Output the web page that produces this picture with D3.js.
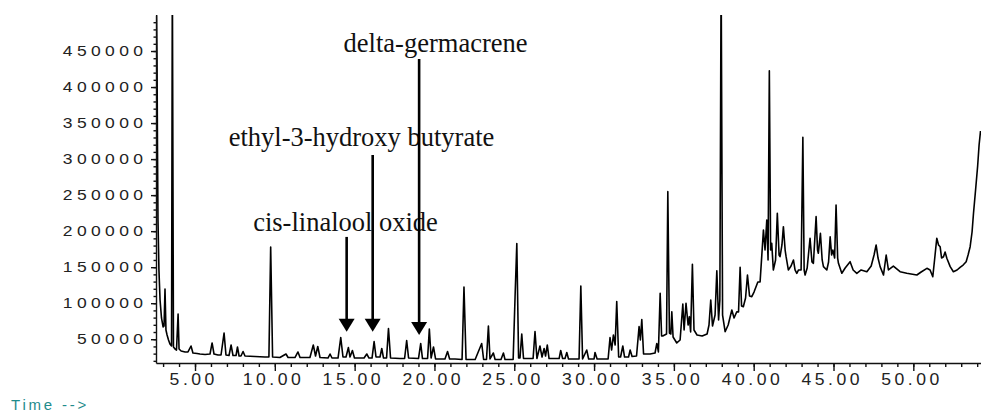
<!DOCTYPE html>
<html>
<head>
<meta charset="utf-8">
<script src="https://cdn.jsdelivr.net/npm/d3@7"></script>
<style>
  body { margin: 0; background: #fff; }
  svg { display: block; }
</style>
</head>
<body>
<div id="chart"></div>
<script>
// retention time (min), abundance
const traceEarly = [
  [2.58, 520000], [2.62, 437600], [2.65, 312600], [2.68, 215500], [2.74, 146100],
  [2.81, 104400], [2.90, 79500], [3.00, 67000], [3.06, 68400], [3.12, 119700],
  [3.18, 62800], [3.25, 55900], [3.34, 48900], [3.43, 43400], [3.53, 40600],
  [3.58, 560000], [3.65, 39200], [3.75, 36400], [3.84, 35000], [3.94, 85000],
  [4.00, 36400], [4.13, 33700], [4.38, 32300], [4.56, 32300], [4.75, 40600],
  [4.87, 30900], [5.13, 30200], [5.31, 29500], [5.63, 28800], [5.94, 29500],
  [6.07, 44800], [6.19, 29500], [6.44, 28100], [6.63, 28100], [6.82, 58600],
  [6.94, 28100], [7.13, 27400], [7.26, 42000], [7.38, 27400], [7.57, 27400],
  [7.66, 39200], [7.76, 26700], [7.88, 26700], [8.01, 33000], [8.13, 26700],
  [8.76, 26000], [9.38, 25300], [9.63, 25300], [9.74, 178000], [9.86, 25300],
  [10.32, 24600], [10.70, 29500], [10.83, 24600], [11.26, 24600], [11.45, 32300],
  [11.58, 24600], [12.20, 24600], [12.41, 42000], [12.55, 26700], [12.69, 39900],
  [12.83, 24600], [13.33, 23900], [13.46, 29500], [13.58, 23900], [13.96, 23900],
  [14.13, 52400], [14.27, 25300], [14.46, 25300], [14.61, 38500], [14.71, 25300],
  [14.86, 34400], [14.99, 23900], [15.59, 23900], [15.76, 29500], [15.90, 23900],
  [16.09, 23900], [16.22, 46800], [16.34, 25300], [16.59, 25300], [16.70, 37100],
  [16.81, 23900], [17.00, 23900], [17.12, 64900], [17.25, 23900], [17.84, 23200],
  [18.13, 23200], [18.26, 48200], [18.38, 23900], [19.00, 23200], [19.14, 44100],
  [19.25, 23200], [19.57, 23200], [19.68, 64200], [19.79, 23900], [19.94, 39200],
  [20.07, 22600], [20.66, 22600], [20.82, 33000], [20.95, 22600]
];
const traceMid = [
  [21.29, 22600], [21.73, 21900], [21.85, 122500], [21.98, 21900], [22.55, 21900],
  [22.96, 44100], [23.08, 21900], [23.26, 21900], [23.38, 68400], [23.48, 22600],
  [23.69, 30900], [23.80, 21900], [24.17, 21900], [24.32, 30900], [24.42, 21900],
  [24.93, 21900], [25.05, 108600], [25.16, 182900], [25.27, 23900], [25.36, 23900],
  [25.47, 57300], [25.58, 23200], [26.18, 23200], [26.30, 60700], [26.42, 23200],
  [26.61, 40600], [26.74, 25300], [26.87, 37100], [26.96, 26700], [27.07, 42000],
  [27.18, 23200], [27.81, 23200], [27.91, 34400], [28.03, 23200], [28.18, 23200],
  [28.29, 31600], [28.40, 22600], [29.06, 22600], [29.17, 123900], [29.28, 22600],
  [29.54, 35000], [29.66, 22600], [30.00, 22600], [30.06, 31600], [30.19, 22600],
  [30.88, 22600], [31.00, 52400], [31.10, 35000], [31.21, 55900], [31.32, 42000],
  [31.42, 102400], [31.54, 25300], [31.66, 25300], [31.80, 40600], [31.91, 25300],
  [32.16, 25300], [32.26, 35000], [32.38, 26000], [32.66, 26700], [32.82, 67700],
  [32.90, 48900], [32.99, 77400], [33.10, 29500], [33.51, 29500], [33.82, 30900],
  [33.93, 44100], [34.03, 32300], [34.14, 113700], [34.23, 54500], [34.30, 54500]
];
const traceLate = [
  [34.42, 55900], [34.54, 57300], [34.62, 254800], [34.72, 58600], [34.81, 57300],
  [34.87, 88200], [34.95, 53100], [35.18, 44800], [35.39, 48900], [35.56, 98900],
  [35.64, 62800], [35.76, 99900], [35.89, 69700], [35.97, 81300], [36.05, 60000],
  [36.16, 154000], [36.26, 62800], [36.45, 55900], [36.77, 54500], [37.08, 57300],
  [37.20, 69700], [37.31, 104400], [37.42, 68400], [37.58, 83600], [37.69, 145100],
  [37.80, 76700], [37.88, 104400], [37.96, 560000], [38.05, 83600], [38.21, 60400],
  [38.40, 69700], [38.63, 90600], [38.77, 79500], [38.94, 88200], [39.05, 87800],
  [39.15, 149800], [39.24, 96100], [39.35, 95100], [39.49, 107200], [39.61, 139100],
  [39.74, 110000], [39.88, 109000], [40.02, 115500], [40.26, 129400], [40.40, 129400],
  [40.61, 201600], [40.71, 173800], [40.82, 215500], [40.90, 160000], [40.98, 422700],
  [41.06, 173800], [41.13, 183100], [41.23, 146100], [41.37, 160000], [41.48, 224800],
  [41.59, 166900], [41.65, 164500], [41.77, 180800], [41.86, 206200], [41.97, 173800],
  [42.03, 164500], [42.17, 146100], [42.34, 151600], [42.49, 160000], [42.59, 146100],
  [42.70, 141500], [42.81, 146100], [42.97, 146100], [43.08, 330300], [43.16, 146100],
  [43.22, 139100], [43.35, 148900], [43.53, 190100], [43.65, 157200], [43.74, 155400],
  [43.91, 220100], [44.00, 173800], [44.05, 169300], [44.18, 197000], [44.29, 160000],
  [44.37, 150700], [44.58, 146100], [44.69, 157200], [44.79, 192300], [44.88, 166900],
  [44.96, 173800], [45.07, 162700], [45.16, 236300], [45.26, 162700], [45.31, 155400],
  [45.52, 141500], [45.73, 148900], [46.04, 157600], [46.23, 146100], [46.46, 141500],
  [46.73, 146100], [47.09, 143700], [47.36, 151600], [47.54, 166900], [47.67, 180800],
  [47.79, 162700], [47.92, 150700], [48.13, 139100], [48.30, 166900], [48.44, 146100],
  [48.75, 151600], [49.17, 143700], [49.59, 141500], [49.86, 140500], [50.22, 139100],
  [50.49, 143300], [50.85, 148400], [51.05, 146100], [51.22, 136800], [51.33, 160000],
  [51.47, 190100], [51.58, 180800], [51.68, 178400], [51.77, 162700], [51.89, 164500],
  [51.99, 171100], [52.10, 162300], [52.31, 150700], [52.51, 143700], [52.74, 146100],
  [52.93, 149800], [53.12, 153000], [53.31, 157600], [53.43, 166900], [53.56, 178400],
  [53.68, 198800], [53.77, 224800], [53.90, 257100], [54.03, 290400], [54.12, 319600],
  [54.21, 339000]
];

const timeDomain = [2.556, 54.24];
const abundanceDomain = [17000, 500000];
const yMajorTicks = [50000, 100000, 150000, 200000, 250000, 300000, 350000, 400000, 450000];
const yMinorTicks = d3.range(20000, 500000, 10000);
const xMajorTicks = [5, 10, 15, 20, 25, 30, 35, 40, 45, 50];
const xMinorTicks = d3.range(3, 55, 1);

// annotations: compound, arrow time, arrow top / tip abundance, label centre
const annLabels = ["cis-linalool oxide", "ethyl-3-hydroxy butyrate", "delta-germacrene"];
const annTimes = [14.50, 16.13, 19.04];
const annTops = [192000, 305700, 439000];
const annTips = [60400, 60400, 55900];
const annTextTimes = [14.43, 15.43, 20.07];
const annTextValues = [200600, 318600, 448300];

const W = 981, H = 412;
const plot = { left: 156, right: 981, top: 15, bottom: 363 };

const svg = d3.select("#chart").append("svg")
  .attr("width", W)
  .attr("height", H);

const x = d3.scaleLinear().domain(timeDomain).range([plot.left, plot.right]);
const y = d3.scaleLinear().domain(abundanceDomain).range([plot.bottom, plot.top]);

svg.append("clipPath").attr("id", "clip")
  .append("rect")
    .attr("x", plot.left)
    .attr("y", plot.top)
    .attr("width", plot.right - plot.left)
    .attr("height", plot.bottom - plot.top);

const trace = traceEarly.concat(traceMid, traceLate);

const line = d3.line()
  .x(d => x(d[0]))
  .y(d => y(d[1]));

svg.append("path")
  .datum(trace)
  .attr("clip-path", "url(#clip)")
  .attr("fill", "none")
  .attr("stroke", "#000")
  .attr("stroke-width", 1.6)
  .attr("stroke-linejoin", "round")
  .attr("d", line);

// y axis
const yScaleX = 1.25;
svg.append("g")
  .attr("transform", `translate(${plot.left},0)`)
  .call(d3.axisLeft(y).tickValues(yMinorTicks).tickSize(2.5).tickFormat(""))
  .call(g => g.select(".domain").remove());

const yAxis = svg.append("g")
  .attr("transform", `translate(${plot.left},0)`)
  .call(d3.axisLeft(y).tickValues(yMajorTicks).tickSize(5).tickSizeOuter(0).tickFormat(d3.format("d")));
yAxis.selectAll("text")
  .attr("x", -8.6 / yScaleX)
  .attr("transform", `scale(${yScaleX},1)`)
  .style("font-family", "'Liberation Sans', Arial, sans-serif")
  .style("font-size", "14px")
  .style("letter-spacing", "3.5px")
  .attr("fill", "#222");

// x axis
const xScaleX = 1.1;
svg.append("g")
  .attr("transform", `translate(0,${plot.bottom})`)
  .call(d3.axisBottom(x).tickValues(xMinorTicks).tickSize(4).tickFormat(""))
  .call(g => g.select(".domain").remove());

const xAxis = svg.append("g")
  .attr("transform", `translate(0,${plot.bottom})`)
  .call(d3.axisBottom(x).tickValues(xMajorTicks).tickSize(8).tickSizeOuter(0).tickFormat(d3.format(".2f")));
xAxis.selectAll("text")
  .attr("x", -1.6)
  .attr("y", 22)
  .attr("dy", null)
  .attr("transform", `scale(${xScaleX},1)`)
  .style("font-family", "'Liberation Sans', Arial, sans-serif")
  .style("font-size", "16px")
  .style("letter-spacing", "3.2px")
  .attr("fill", "#222");

svg.selectAll(".domain, .tick line")
  .attr("stroke", "#111")
  .attr("stroke-width", 1.4);

svg.append("text")
  .attr("x", 11)
  .attr("y", 410)
  .attr("fill", "#1f8c8c")
  .style("font-family", "'Liberation Sans', Arial, sans-serif")
  .style("font-size", "15px")
  .style("letter-spacing", "2.8px")
  .text("Time -->");

// annotations
const headW = 8, headH = 13;
annLabels.forEach((label, i) => {
  const ax = x(annTimes[i]);
  const tipY = y(annTips[i]);
  svg.append("line")
    .attr("x1", ax).attr("x2", ax)
    .attr("y1", y(annTops[i]))
    .attr("y2", tipY - headH + 1)
    .attr("stroke", "#000")
    .attr("stroke-width", 2.6);
  svg.append("path")
    .attr("d", `M${ax - headW},${tipY - headH}L${ax + headW},${tipY - headH}L${ax},${tipY}Z`)
    .attr("fill", "#000");
  svg.append("text")
    .attr("x", x(annTextTimes[i]))
    .attr("y", y(annTextValues[i]))
    .attr("text-anchor", "middle")
    .style("font-family", "'Liberation Serif', 'Times New Roman', serif")
    .style("font-size", "26.5px")
    .attr("fill", "#111")
    .text(label);
});
</script>
</body>
</html>
